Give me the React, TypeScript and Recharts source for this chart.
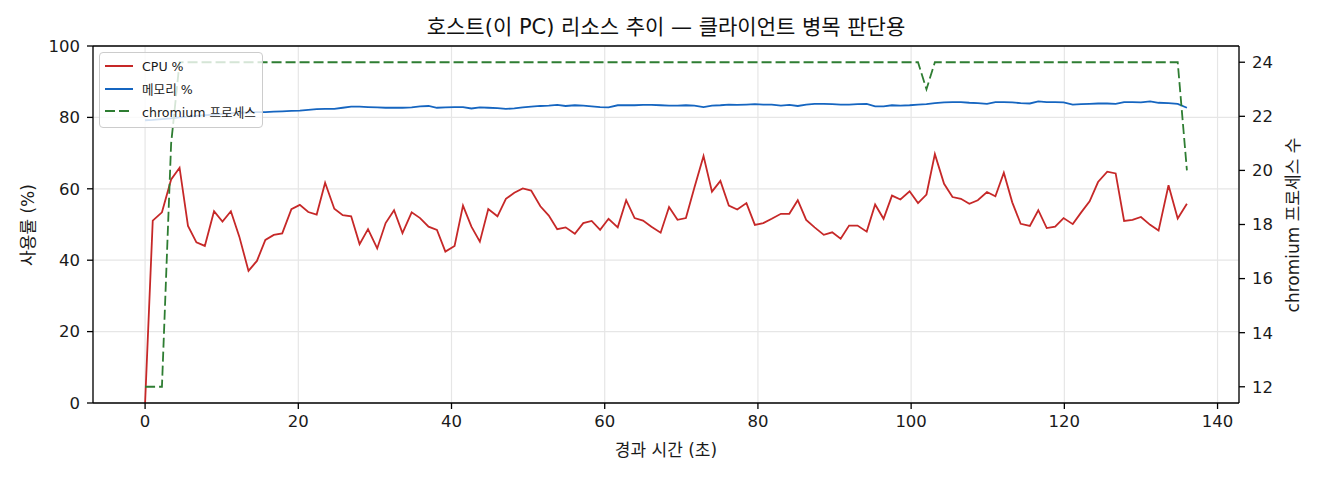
import React from 'react';
import { LineChart, Line, XAxis, YAxis, CartesianGrid, Legend, ReferenceLine, Label } from 'recharts';

const TIMES = [
  0, 1.0, 2.2, 3.4, 4.5, 5.6, 6.7, 7.8, 9.0, 10.1,
  11.2, 12.3, 13.5, 14.6, 15.7, 16.8, 17.9, 19.1, 20.2, 21.3,
  22.4, 23.5, 24.7, 25.8, 26.9, 28.0, 29.1, 30.3, 31.4, 32.5,
  33.6, 34.8, 35.9, 37.0, 38.1, 39.2, 40.4, 41.5, 42.6, 43.7,
  44.8, 46.0, 47.1, 48.2, 49.3, 50.4, 51.6, 52.7, 53.8, 54.9,
  56.1, 57.2, 58.3, 59.4, 60.5, 61.7, 62.8, 63.9, 65.0, 66.1,
  67.3, 68.4, 69.5, 70.6, 71.7, 72.9, 74.0, 75.1, 76.2, 77.3,
  78.5, 79.6, 80.7, 81.8, 83.0, 84.1, 85.2, 86.3, 87.4, 88.6,
  89.7, 90.8, 91.9, 93.0, 94.2, 95.3, 96.4, 97.5, 98.6, 99.8,
  100.9, 102.0, 103.1, 104.3, 105.4, 106.5, 107.6, 108.7, 109.9, 111.0,
  112.1, 113.2, 114.3, 115.5, 116.6, 117.7, 118.8, 119.9, 121.1, 122.2,
  123.3, 124.4, 125.6, 126.7, 127.8, 128.9, 130.0, 131.2, 132.3, 133.6,
  134.8, 136.0,
];

const CPU = [
  0, 51.1, 53.4, 62.6, 65.9, 49.6, 45.0, 44.0, 53.7, 50.8,
  53.7, 46.6, 37.0, 39.8, 45.7, 47.1, 47.5, 54.3, 55.5, 53.5,
  52.8, 61.7, 54.4, 52.6, 52.3, 44.5, 48.7, 43.3, 50.4, 54.0,
  47.6, 53.4, 51.8, 49.4, 48.5, 42.4, 44.0, 55.3, 49.4, 45.2,
  54.3, 52.3, 57.2, 58.9, 60.1, 59.5, 55.1, 52.5, 48.7, 49.2,
  47.4, 50.4, 51.0, 48.5, 51.6, 49.2, 56.8, 51.8, 51.1, 49.4,
  47.7, 54.9, 51.3, 51.8, 60.3, 69.2, 59.2, 62.2, 55.3, 54.2,
  56.0, 49.9, 50.4, 51.6, 53.0, 53.0, 56.8, 51.3, 49.2, 47.1,
  47.8, 46.0, 49.7, 49.7, 48.0, 55.6, 51.6, 58.1, 57.0, 59.3,
  56.0, 58.4, 69.7, 61.4, 57.7, 57.2, 55.8, 56.8, 59.1, 57.9,
  64.5, 56.2, 50.2, 49.6, 54.0, 49.0, 49.4, 51.8, 50.1, 53.4,
  56.5, 61.9, 64.8, 64.3, 51.0, 51.3, 52.1, 49.9, 48.3, 61.0,
  51.7, 55.8,
];

const MEM = [
  79.2, 79.3, 79.5, 79.7, 80.0, 80.2, 80.4, 80.6, 80.8, 81.0,
  81.1, 81.3, 81.4, 81.5, 81.5, 81.6, 81.7, 81.8, 81.9, 82.1,
  82.3, 82.4, 82.4, 82.7, 83.0, 83.0, 82.9, 82.8, 82.7, 82.7,
  82.7, 82.8, 83.1, 83.2, 82.7, 82.8, 82.9, 82.9, 82.5, 82.8,
  82.7, 82.6, 82.4, 82.5, 82.8, 83.0, 83.2, 83.3, 83.5, 83.2,
  83.4, 83.3, 83.1, 82.9, 82.8, 83.4, 83.4, 83.4, 83.5, 83.5,
  83.4, 83.3, 83.3, 83.4, 83.3, 82.9, 83.3, 83.4, 83.6, 83.5,
  83.6, 83.7, 83.6, 83.6, 83.3, 83.5, 83.2, 83.6, 83.8, 83.8,
  83.7, 83.6, 83.6, 83.7, 83.8, 83.1, 83.1, 83.4, 83.3, 83.4,
  83.6, 83.7, 84.0, 84.2, 84.3, 84.3, 84.1, 84.0, 83.8, 84.3,
  84.3, 84.2, 84.0, 83.9, 84.5, 84.3, 84.3, 84.2, 83.6, 83.7,
  83.8, 83.9, 83.9, 83.8, 84.3, 84.3, 84.2, 84.5, 84.1, 84.0,
  83.8, 82.7,
];

const PROC = [
  12, 12, 12, 21, 24, 24, 24, 24, 24, 24,
  24, 24, 24, 24, 24, 24, 24, 24, 24, 24,
  24, 24, 24, 24, 24, 24, 24, 24, 24, 24,
  24, 24, 24, 24, 24, 24, 24, 24, 24, 24,
  24, 24, 24, 24, 24, 24, 24, 24, 24, 24,
  24, 24, 24, 24, 24, 24, 24, 24, 24, 24,
  24, 24, 24, 24, 24, 24, 24, 24, 24, 24,
  24, 24, 24, 24, 24, 24, 24, 24, 24, 24,
  24, 24, 24, 24, 24, 24, 24, 24, 24, 24,
  24, 23, 24, 24, 24, 24, 24, 24, 24, 24,
  24, 24, 24, 24, 24, 24, 24, 24, 24, 24,
  24, 24, 24, 24, 24, 24, 24, 24, 24, 24,
  24, 20,
];

const X_TICKS = [0, 20, 40, 60, 80, 100, 120, 140];
const LEFT_TICKS = [0, 20, 40, 60, 80, 100];
const RIGHT_TICKS = [12, 14, 16, 18, 20, 22, 24];

const TITLE = '호스트(이 PC) 리소스 추이 — 클라이언트 병목 판단용';
const X_LABEL = '경과 시간 (초)';
const LEFT_LABEL = '사용률 (%)';
const RIGHT_LABEL = 'chromium 프로세스 수';

const SERIES = [
  { key: 'cpu', name: 'CPU %', color: '#c62828', dash: undefined as string | undefined, axis: 'left' },
  { key: 'mem', name: '메모리 %', color: '#1565c0', dash: undefined as string | undefined, axis: 'left' },
  { key: 'proc', name: 'chromium 프로세스', color: '#2e7d32', dash: '10 4', axis: 'right' },
];

const data = TIMES.map((t, i) => ({ t, cpu: CPU[i], mem: MEM[i], proc: PROC[i] }));

const FONT = '"DejaVu Sans", "Noto Sans CJK KR", sans-serif';
const TEXT = '#1a1a1a';
const tickStyle = { fill: TEXT, fontSize: 16.5, fontFamily: FONT };
const axisLineStyle = { stroke: '#000', strokeWidth: 1.3 };
const LABEL_SIZE = 17;

const renderLegend = () => (
  <div
    style={{
      background: 'rgba(255,255,255,0.8)',
      border: '1px solid #cccccc',
      borderRadius: 4,
      padding: '2px 6px 4px 5px',
      width: 164,
      boxSizing: 'border-box',
      fontFamily: FONT,
      fontSize: 12.6,
      color: TEXT,
    }}
  >
    {SERIES.map((s) => (
      <div key={s.key} style={{ display: 'flex', alignItems: 'center', height: 22.5, whiteSpace: 'nowrap' }}>
        <svg width={28} height={6} style={{ marginRight: 9, flex: 'none' }}>
          <line x1={0} x2={28} y1={3} y2={3} stroke={s.color} strokeWidth={2} strokeDasharray={s.dash} />
        </svg>
        <span>{s.name}</span>
      </div>
    ))}
  </div>
);

export default function App() {
  return (
    <div style={{ position: 'absolute', left: 0, top: 0, width: 1320, height: 480, background: '#fff' }}>
      <div
        style={{
          position: 'absolute',
          left: 93,
          width: 1146,
          top: 13,
          lineHeight: '28px',
          textAlign: 'center',
          fontFamily: FONT,
          fontSize: 21,
          color: '#111',
          whiteSpace: 'nowrap',
        }}
      >
        {TITLE}
      </div>
      <LineChart width={1320} height={480} data={data} margin={{ top: 46, right: 0, bottom: 0, left: 0 }}>
        <CartesianGrid yAxisId="left" stroke="#e6e6e6" strokeWidth={1.2} />
        <XAxis
          dataKey="t"
          type="number"
          domain={[-6.8, 142.8]}
          allowDataOverflow
          ticks={X_TICKS}
          interval={0}
          height={77}
          tick={tickStyle}
          tickSize={6}
          tickMargin={6}
          axisLine={axisLineStyle}
          tickLine={axisLineStyle}
        >
          <Label
            content={() => (
              <text x={666} y={450} textAnchor="middle" dominantBaseline="central" fill={TEXT} fontSize={LABEL_SIZE} fontFamily={FONT}>
                {X_LABEL}
              </text>
            )}
          />
        </XAxis>
        <YAxis
          yAxisId="left"
          orientation="left"
          domain={[0, 100]}
          ticks={LEFT_TICKS}
          interval={0}
          width={93}
          tick={tickStyle}
          tickSize={6}
          tickMargin={7}
          axisLine={axisLineStyle}
          tickLine={axisLineStyle}
        >
          <Label
            content={() => (
              <text
                x={28}
                y={225}
                transform="rotate(-90 28 225)"
                textAnchor="middle"
                dominantBaseline="central"
                fill={TEXT}
                fontSize={LABEL_SIZE}
                fontFamily={FONT}
              >
                {LEFT_LABEL}
              </text>
            )}
          />
        </YAxis>
        <YAxis
          yAxisId="right"
          orientation="right"
          domain={[11.4, 24.6]}
          allowDataOverflow
          ticks={RIGHT_TICKS}
          interval={0}
          width={81}
          tick={tickStyle}
          tickSize={6}
          tickMargin={7}
          axisLine={axisLineStyle}
          tickLine={axisLineStyle}
        >
          <Label
            content={() => (
              <text
                x={1293}
                y={225}
                transform="rotate(-90 1293 225)"
                textAnchor="middle"
                dominantBaseline="central"
                fill={TEXT}
                fontSize={LABEL_SIZE}
                fontFamily={FONT}
              >
                {RIGHT_LABEL}
              </text>
            )}
          />
        </YAxis>
        <ReferenceLine yAxisId="left" y={100} stroke="#000" strokeWidth={1.3} />
        {SERIES.map((s) => (
          <Line
            key={s.key}
            yAxisId={s.axis}
            dataKey={s.key}
            name={s.name}
            type="linear"
            stroke={s.color}
            strokeWidth={1.8}
            strokeDasharray={s.dash}
            dot={false}
            activeDot={false}
            isAnimationActive={false}
          />
        ))}
        <Legend
          layout="vertical"
          align="center"
          verticalAlign="middle"
          content={renderLegend}
          wrapperStyle={{ left: 99, top: 52, width: 'auto', height: 'auto' }}
        />
      </LineChart>
    </div>
  );
}
